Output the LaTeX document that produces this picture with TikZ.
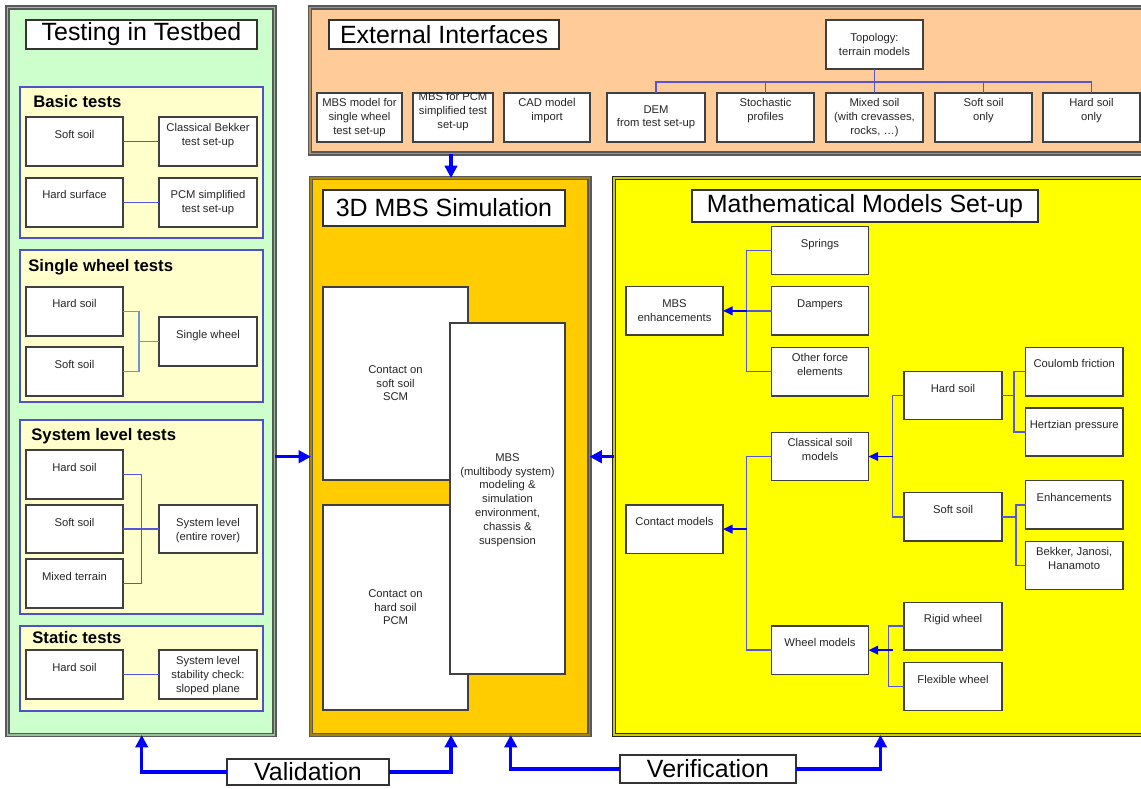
\documentclass[tikz,border=0pt]{standalone}
\usepackage{fontspec}
\setmainfont{Liberation Sans}
\usetikzlibrary{arrows.meta}
\definecolor{pgreen}{HTML}{CCFFCC}
\definecolor{pyel}{HTML}{FFFFCC}
\definecolor{porange}{HTML}{FFCC99}
\definecolor{pgold}{HTML}{FFCC00}
\definecolor{pyellow}{HTML}{FFFF00}
\definecolor{subblue}{RGB}{80,80,200}
\definecolor{connc}{RGB}{85,85,215}
\definecolor{connlight}{RGB}{110,150,210}
\definecolor{arrblue}{HTML}{0000FF}
\tikzset{
 box/.style={draw=black!75, line width=0.8pt, fill=white, inner sep=0pt, outer sep=0pt},
 boxtxt/.style={inner sep=0pt, align=center, text=black!85, font=\fontsize{6.4}{7.9}\selectfont},
 ttl/.style={draw=black!80, line width=0.7pt, fill=white, inner sep=0pt, outer sep=0pt, font=\fontsize{14.2}{17}\selectfont},
 panel/.style={line width=0.6pt, draw=black!65, double distance=1.1pt, inner sep=0pt, outer sep=0pt},
 sub/.style={draw=subblue, line width=0.6pt, fill=pyel, inner sep=0pt, outer sep=0pt},
 subttl/.style={font=\fontsize{9.5}{11}\selectfont\bfseries, anchor=base west, inner sep=0pt},
 conn/.style={draw=connc, line width=0.85pt},
 connl/.style={draw=connlight, line width=0.85pt},
 sarrow/.style={draw=arrblue, line width=0.9pt, -{Triangle[width=5pt,length=5.5pt]}},
 bigarrow/.style={draw=arrblue, line width=1.8pt, -{Triangle[width=7pt,length=7pt]}},
}
% rectangle node: name, style, x1, y1, x2, y2
\newcommand\rct[6]{\node[#2, minimum width={(#5-#3)*0.02cm}, minimum height={(#6-#4)*0.02cm}] (#1) at ({(#3+#5)/2},{(#4+#6)/2}) {};}
% box with top-placed text: name, x1, y1, x2, y2, y of first line, text
\newcommand\bx[7]{\node[box, minimum width={(#4-#2)*0.02cm}, minimum height={(#5-#3)*0.02cm}] (#1) at ({(#2+#4)/2},{(#3+#5)/2}) {};
 \node[boxtxt, anchor=north] (#1t) at ({(#2+#4)/2},{#6-4}) {#7};}
% title box: name, x1, y1, x2, y2, text
\newcommand\ttlbox[6]{\node[ttl, minimum width={(#4-#2)*0.02cm}, minimum height={(#5-#3)*0.02cm}] (#1) at ({(#2+#4)/2},{(#3+#5)/2}) {#6};}
\begin{document}
\begin{tikzpicture}[x=0.02cm,y=-0.02cm]
\useasboundingbox (0,0) rectangle (1141,788);
\fill[white] (0,0) rectangle (1141,788);
\begin{scope}
\clip (0,0) rectangle (1141,788);
% ---------- panels
\rct{pleft}{panel, double=pgreen!75!black, fill=pgreen}{7.5}{7.5}{274.5}{735}
\rct{ptop}{panel, double=porange!70!black, fill=porange}{310}{7.5}{1160}{153.5}
\rct{pmid}{panel, double=pgold!65!black, fill=pgold}{311}{178}{589.5}{735}
\rct{pright}{panel, draw=black!85, double=pyellow!80!black, fill=pyellow}{614}{178}{1160}{735}

% ---------- left panel
\ttlbox{tleft}{26}{20}{257}{49}{Testing in Testbed}
\rct{sbasic}{sub}{20}{87}{263}{238}
\rct{ssingle}{sub}{20}{250}{263}{402}
\rct{ssystem}{sub}{20}{420}{263}{614}
\rct{sstatic}{sub}{20}{626}{263}{711}
\node[subttl] (lbasic) at (33,107) {Basic tests};
\node[subttl] (lsingle) at (28,271) {Single wheel tests};
\node[subttl] (lsystem) at (31,440) {System level tests};
\node[subttl] (lstatic) at (32,643) {Static tests};

\bx{bsoft}{26}{117}{123}{166}{134}{Soft soil}
\bx{bbek}{159}{117}{257}{166}{127}{Classical Bekker\\test set-up}
\bx{bhard}{26}{178}{123}{227}{194}{Hard surface}
\bx{bpcm}{159}{178}{257}{227}{194}{PCM simplified\\test set-up}

\bx{shard}{26}{287}{123}{336}{303}{Hard soil}
\bx{ssoft}{26}{347}{123}{396}{364}{Soft soil}
\bx{swheel}{159}{317}{257}{366}{334}{Single wheel}

\bx{yhard}{26}{450}{123}{499}{467}{Hard soil}
\bx{ysoft}{26}{505}{123}{553}{522}{Soft soil}
\bx{ysys}{159}{505}{257}{553}{522}{System level\\(entire rover)}
\bx{ymix}{26}{559}{123}{608}{576}{Mixed terrain}

\bx{thard}{26}{650}{123}{699}{667}{Hard soil}
\bx{tsys}{159}{650}{257}{699}{660}{System level\\stability check:\\sloped plane}

\coordinate (js) at (139,0);
\coordinate (jy) at (141.5,0);
\draw[conn] (bsoft.east) -- (bbek.west);
\draw[conn] (bhard.east) -- (bpcm.west);
\draw[connl] (shard.east) -| (js |- ssoft.east) -- (ssoft.east);
\draw[connl] (swheel.west) -- (js |- swheel.west);
\draw[conn] (yhard.east) -| (jy |- ymix.east) -- (ymix.east);
\draw[conn] (ysoft.east) -- (ysys.west);
\draw[conn] (thard.east) -- (tsys.west);

% ---------- top panel
\ttlbox{ttop}{329}{20}{559}{49}{External Interfaces}
\bx{e1}{317}{93}{402}{142}{102}{MBS model for\\single wheel\\test set-up}
\bx{e2}{413}{93}{493}{142}{96}{MBS for PCM\\simplified test\\set-up}
\bx{e3}{504}{93}{590}{142}{102}{CAD model\\import}
\bx{e4}{607}{93}{705}{142}{109}{DEM\\from test set-up}
\bx{e5}{717}{93}{814}{142}{102}{Stochastic\\profiles}
\bx{e6}{826}{93}{923}{142}{102}{Mixed soil\\(with crevasses,\\rocks, …)}
\bx{e7}{935}{93}{1032}{142}{102}{Soft soil\\only}
\bx{e8}{1043}{93}{1140}{142}{102}{Hard soil\\only}
\bx{topo}{826}{20}{923}{69}{37}{Topology:\\terrain models}
\coordinate (bus) at (0,82);
\draw[conn] (topo.south) -- (topo.south |- bus);
\draw[conn] (e4.north) |- (e8.north |- bus) -- (e8.north);
\draw[conn] (e5.north) -- (e5.north |- bus);
\draw[conn] (e6.north) -- (e6.north |- bus);
\draw[conn] (e7.north) -- (e7.north |- bus);

% ---------- middle panel
\ttlbox{tmid}{323}{190}{565}{226}{3D MBS Simulation}
\bx{csoft}{323}{287}{468}{480}{369}{Contact on\\soft soil\\SCM}
\bx{chard}{323}{505}{468}{710}{593}{Contact on\\hard soil\\PCM}
\bx{mbs}{450}{323}{565}{674}{457}{MBS\\(multibody system)\\modeling \&\\simulation\\environment,\\chassis \&\\suspension}

% ---------- right panel
\ttlbox{tright}{692}{190}{1038}{222}{Mathematical Models Set-up}
\bx{spr}{771.5}{226.7}{868.5}{274.3}{243}{Springs}
\bx{dam}{771.5}{286.7}{868.5}{335}{303}{Dampers}
\bx{oth}{771.5}{347.3}{868.5}{396}{357}{Other force\\elements}
\bx{mbse}{626}{286.7}{723}{335}{303}{MBS\\enhancements}
\bx{hs}{904}{371.7}{1002}{419.3}{388}{Hard soil}
\bx{coul}{1025.5}{347.3}{1122.8}{396}{363}{Coulomb friction}
\bx{hertz}{1025.5}{408}{1122.8}{456}{424}{Hertzian pressure}
\bx{cls}{771.5}{432.3}{868.5}{480.7}{442}{Classical soil\\models}
\bx{ss}{904}{492.7}{1002}{541}{509}{Soft soil}
\bx{enh}{1025.5}{480.7}{1122.8}{529}{497}{Enhancements}
\bx{bek}{1025.5}{541.7}{1122.8}{589.3}{551}{Bekker, Janosi,\\Hanamoto}
\bx{cm}{626}{505}{723}{553.3}{521}{Contact models}
\bx{whm}{771.5}{626}{868.5}{674.3}{642}{Wheel models}
\bx{rig}{904}{602.3}{1002}{650}{618}{Rigid wheel}
\bx{flex}{904}{662.7}{1002}{710.7}{679}{Flexible wheel}

\coordinate (j1) at (746.6,0);
\coordinate (j2) at (1014,0);
\coordinate (j3) at (892.6,0);
\coordinate (j4) at (1015.8,0);
\coordinate (j5) at (888.5,0);
\draw[conn] (spr.west) -| (j1 |- oth.west) -- (oth.west);
\draw[conn] (dam.west) -- (j1 |- dam.west);
\draw[sarrow] (j1 |- mbse.east) -- (mbse.east);
\draw[conn] (hs.east) -- (j2 |- hs.east);
\draw[conn] (coul.west) -| (j2 |- hertz.west) -- (hertz.west);
\draw[conn] (hs.west) -| (j3 |- ss.west) -- (ss.west);
\draw[sarrow] (j3 |- cls.east) -- (cls.east);
\draw[conn] (ss.east) -- (j4 |- ss.east);
\draw[conn] (enh.west) -| (j4 |- bek.west) -- (bek.west);
\draw[conn] (cls.west) -| (j1 |- whm.west) -- (whm.west);
\draw[sarrow] (j1 |- cm.east) -- (cm.east);
\draw[conn] (rig.west) -| (j5 |- flex.west) -- (flex.west);
\draw[sarrow] (j3 |- whm.east) -- (whm.east);

% ---------- big arrows
\coordinate (ay) at (0,456.7);
\coordinate (ax) at (451,0);
\draw[bigarrow] (pleft.east |- ay) -- (pmid.west |- ay);
\draw[bigarrow] (pright.west |- ay) -- (pmid.east |- ay);
\draw[bigarrow] (ptop.south -| ax) -- (pmid.north -| ax);

\ttlbox{val}{227}{759}{389}{785}{Validation}
\ttlbox{ver}{620}{755}{796}{783}{Verification}
\coordinate (c1) at (141.7,0);
\coordinate (c2) at (451,0);
\coordinate (c3) at (510.7,0);
\coordinate (c4) at (880.5,0);
\draw[bigarrow] (val.west) -| (pleft.south -| c1);
\draw[bigarrow] (val.east) -| (pmid.south -| c2);
\draw[bigarrow] (ver.west) -| (pmid.south -| c3);
\draw[bigarrow] (ver.east) -| (pright.south -| c4);
\end{scope}
\end{tikzpicture}
\end{document}
